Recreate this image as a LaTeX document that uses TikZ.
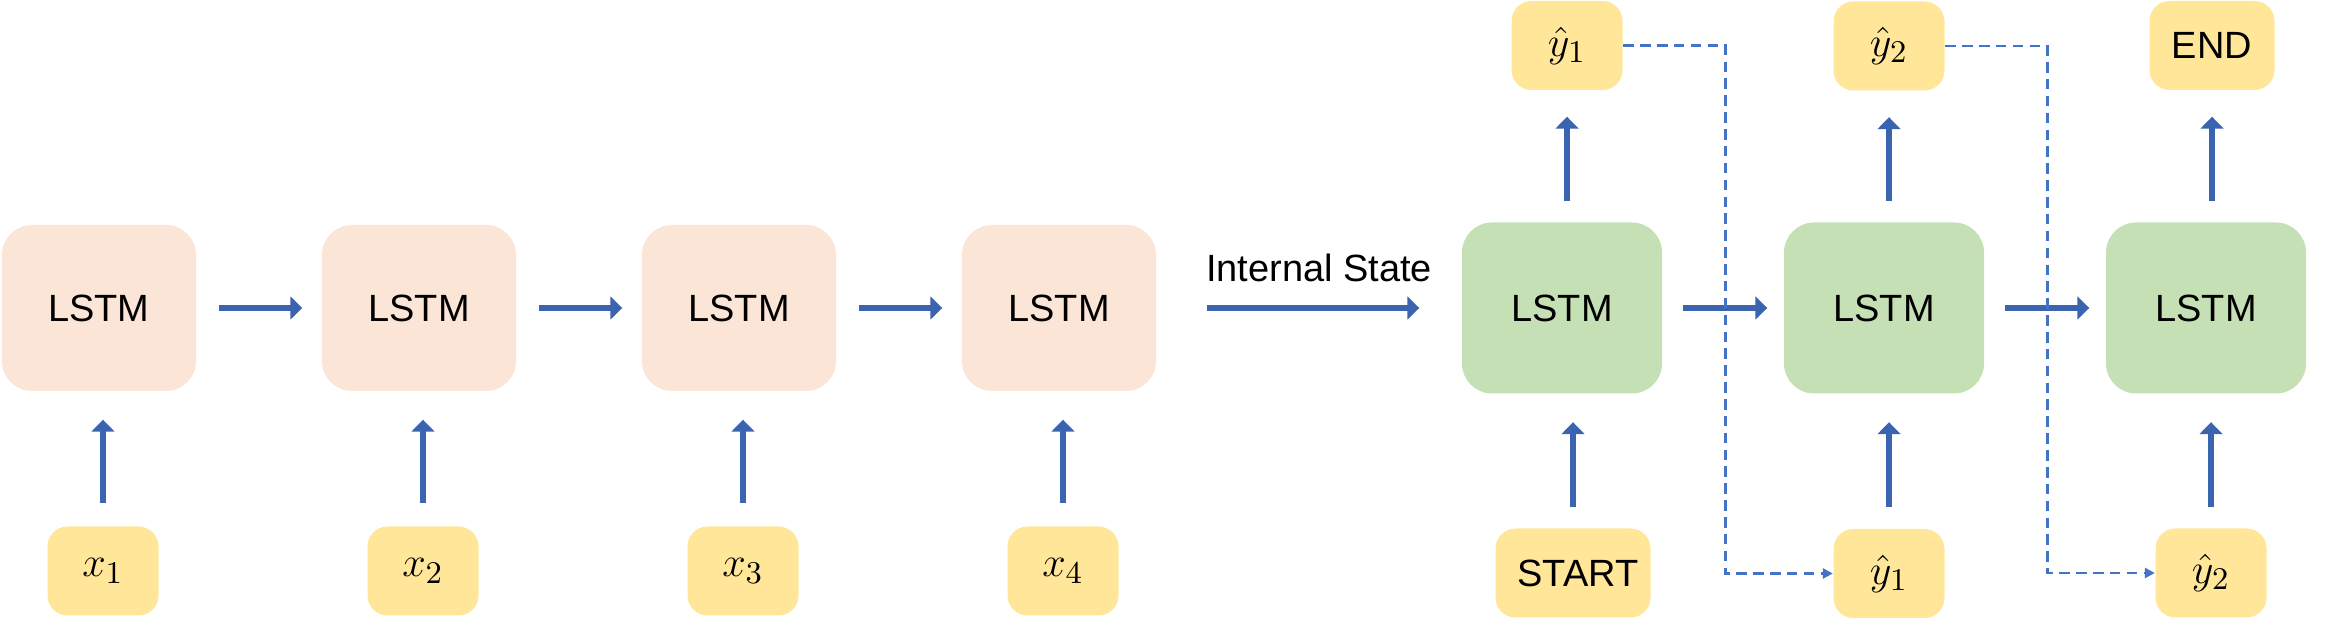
\documentclass[tikz,border=0pt]{standalone}
\usepackage[no-math]{fontspec}
\setmainfont{Liberation Sans}
\usetikzlibrary{arrows.meta}
\definecolor{encfill}{HTML}{FBE5D6}
\definecolor{decfill}{HTML}{C5E0B4}
\definecolor{tokfill}{HTML}{FFE699}
\definecolor{arrowblue}{HTML}{3A63B0}
\definecolor{dashblue}{HTML}{4472C4}

\begin{document}
\begin{tikzpicture}[font=\fontsize{10.8}{12}\selectfont,
  encbox/.style={fill=encfill,rounded corners=0.3cm,minimum width=1.94cm,minimum height=1.66cm},
  decbox/.style={fill=decfill,rounded corners=0.3cm,minimum width=2cm,minimum height=1.71cm},
  tokbox/.style={fill=tokfill,rounded corners=0.2cm,minimum width=1.11cm,minimum height=0.89cm,font=\fontsize{12.5}{14}\selectfont},
  flow/.style={arrowblue,line width=1.5pt,-{Triangle[width=6.4pt,length=3.4pt]}},
  feed/.style={dashblue,line width=0.8pt,dash pattern=on 3pt off 1.8pt,-{Triangle[width=2.8pt,length=2.8pt]}}]
  \useasboundingbox (0,0) rectangle (23.27,6.18);

  % encoder
  \foreach \i in {1,...,4}{
    \node[encbox] (enc\i) at ({0.99+3.2*(\i-1)},3.10) {LSTM};
    \node[tokbox] (x\i) at ({1.03+3.2*(\i-1)},0.47) {$x_{\i}$};
    \draw[flow,shorten <=0.23cm,shorten >=0.28cm] (x\i.north) -- (x\i.north |- enc\i.south);
  }
  \foreach \i/\j in {1/2,2/3,3/4}
    \draw[flow,shorten <=0.22cm,shorten >=0.19cm] (enc\i.east) -- (enc\j.west);

  % decoder
  \node[decbox] (dec1) at (15.62,3.10) {LSTM};
  \node[decbox] (dec2) at (18.84,3.10) {LSTM};
  \node[decbox] (dec3) at (22.06,3.10) {LSTM};
  \node[tokbox] (out1) at (15.67,5.725) {$\hat{y}_1$};
  \node[tokbox] (out2) at (18.89,5.72) {$\hat{y}_2$};
  \node[tokbox,minimum width=1.25cm,font=\fontsize{10.8}{12}\selectfont] (out3) at (22.12,5.725) {END};
  \node[tokbox,minimum width=1.55cm,font=\fontsize{10.8}{12}\selectfont] (in1) at (15.73,0.45) {\hspace{0.1cm}START};
  \node[tokbox] (in2) at (18.89,0.445) {$\hat{y}_1$};
  \node[tokbox] (in3) at (22.11,0.45) {$\hat{y}_2$};

  \foreach \i in {1,2,3}{
    \draw[flow,shorten <=0.21cm,shorten >=0.28cm] (in\i.north) -- (in\i.north |- dec\i.south);
    \draw[flow,shorten <=0.21cm,shorten >=0.26cm] (out\i.south |- dec\i.north) -- (out\i.south);
  }
  \foreach \i/\j in {1/2,2/3}
    \draw[flow,shorten <=0.2cm,shorten >=0.16cm] (dec\i.east) -- (dec\j.west);

  \draw[flow,shorten <=0.5cm,shorten >=0.42cm] (enc4.east) -- (dec1.west)
    node[midway,above,yshift=0.12cm,xshift=0.1cm,text=black] {Internal State};

  % fed back outputs
  \draw[feed] (out1.east) -- ++(1.02,0) |- (in2.west);
  \draw[feed] (out2.east) -- ++(1.02,0) |- (in3.west);

\end{tikzpicture}
\end{document}
